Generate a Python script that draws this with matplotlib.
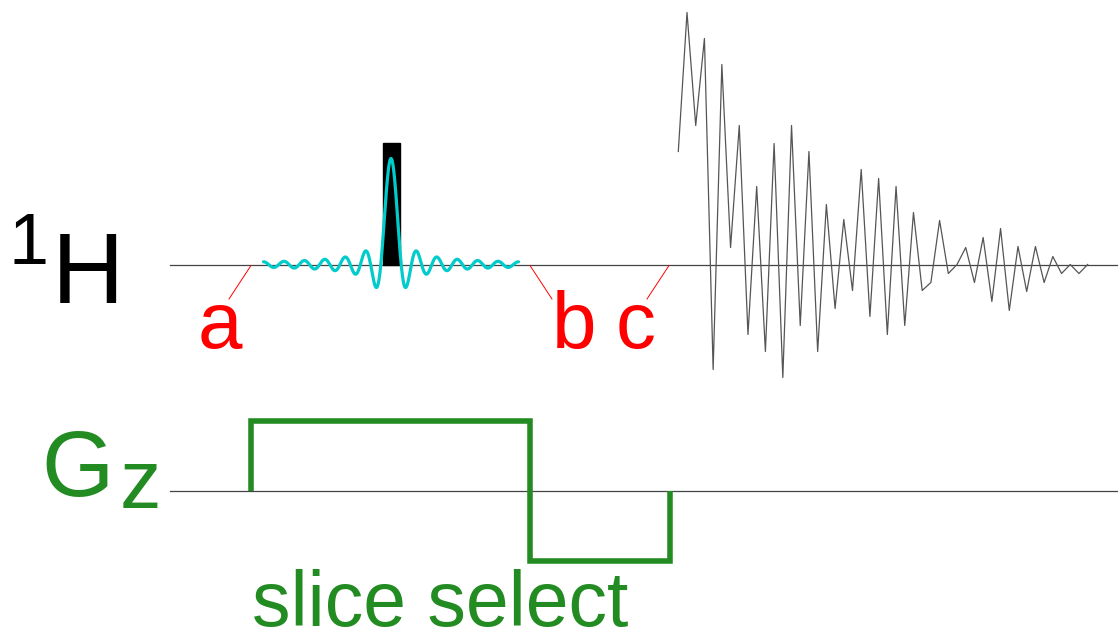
import matplotlib
matplotlib.use("Agg")
import matplotlib.pyplot as plt
import numpy as np

# --- data (pixel-ish units of the diagram) ---
# FID samples, amplitude above the 1H baseline
fid_amp = [113, 252, 139, 226, -105, 200, 17, 139, -70, 78, -87, 121, -113, 139,
           -61, 113, -87, 60, -44, 45, -26, 95, -52, 86, -70, 78, -61, 52, -26,
           -18, 44, -9, 0, 17, -18, 27, -37, 36, -46, 18, -27, 18, -18, 8, -9,
           0, -9, 0]
# slice select gradient: switch times and lobe amplitudes
gz_times = [251, 530, 669.5]
gz_levels = [70, -70]
# sinc RF pulse
sinc_center = 391
sinc_lobes = 12.5
sinc_amp = 106
# event markers
marker_labels = ["a", "b", "c"]
marker_times = [251, 530, 669]

H_BASE = 264.5
G_BASE = 491
GREEN = "#228b22"

plt.rcParams["font.family"] = ["Liberation Sans", "DejaVu Sans"]

fig = plt.figure(figsize=(11.18, 6.36), dpi=100)
ax = fig.add_axes([0, 0, 1, 1])
ax.set_xlim(0, 1118)
ax.set_ylim(636, 0)
ax.axis("off")

def pt(px):
    return px * 0.72

# baselines
ax.plot([170, 1118], [H_BASE, H_BASE], color="#444444", lw=0.9, zorder=1)
ax.plot([170, 1118], [G_BASE, G_BASE], color="#444444", lw=0.9, zorder=1)

# hard pulse block
ax.add_patch(plt.Rectangle((382.5, 142.5), 17.5, H_BASE - 142.5,
                           color="black", zorder=2))

# sinc pulse
u = np.linspace(-sinc_lobes, sinc_lobes, 800)
ax.plot(sinc_center + u * 10.2, H_BASE - sinc_amp * np.sinc(u),
        color="#00cccc", lw=2.3, zorder=3, solid_capstyle="round")

# FID
fid_x = 678.3 + 8.71 * np.arange(len(fid_amp))
ax.plot(fid_x, H_BASE - np.array(fid_amp), color="#555555", lw=0.9, zorder=3)

# gradient
gx = [gz_times[0], gz_times[0], gz_times[1], gz_times[1], gz_times[2], gz_times[2]]
gy = [0, gz_levels[0], gz_levels[0], gz_levels[1], gz_levels[1], 0]
ax.plot(gx, G_BASE - np.array(gy), color=GREEN, lw=4.0, zorder=3,
        solid_joinstyle="miter", solid_capstyle="butt")

# markers with leader lines
offsets = [-22, 22, -22]
label_x = [220, 574, 636]
for lab, t, dx, lx in zip(marker_labels, marker_times, offsets, label_x):
    ax.plot([t, t + dx], [H_BASE + 1, 299], color="red", lw=0.7, zorder=2)
    ax.text(lx, 348, lab, color="red", fontsize=pt(80), ha="center",
            va="baseline")

# axis labels
ax.text(88, 303, "H", fontsize=pt(100), ha="center", va="baseline")
ax.text(28, 264, "1", fontsize=pt(72), ha="center", va="baseline")
ax.text(78, 496, "G", color=GREEN, fontsize=pt(93), ha="center", va="baseline")
ax.text(140, 508, "z", color=GREEN, fontsize=pt(83), ha="center", va="baseline")
ax.text(440, 626, "slice select", color=GREEN, fontsize=pt(77), ha="center",
        va="baseline")

fig.savefig("out.png", dpi=100)
